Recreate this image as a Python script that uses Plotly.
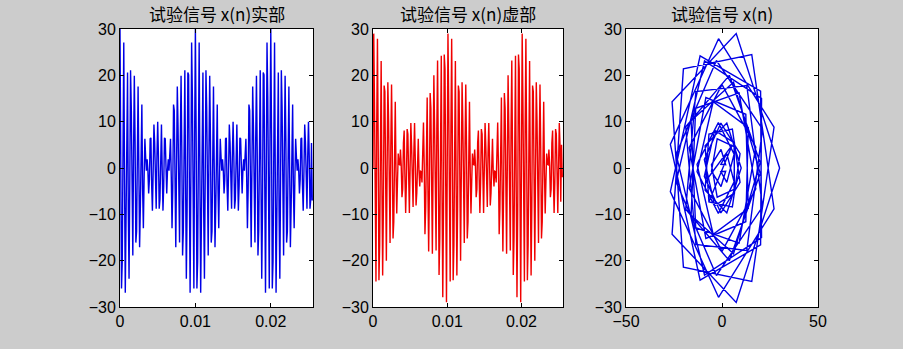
import numpy as np
import plotly.graph_objects as go

# ---------------- data ----------------
fs = 10000          # sampling rate, Hz
N = 256             # number of samples

re_part = [
    30.0, 7.4, -26.0, -20.1, 15.5, 27.1, -1.8, -26.9, -11.4, 20.1,
    20.6, -9.1, -23.9, -2.9, 21.1, 12.9, -13.6, -18.9, 3.8, 19.9,
    6.0, -16.1, -13.7, 8.9, 17.6, 0.0, -17.1, -8.4, 12.4, 13.7,
    -4.6, -13.0, -1.9, 6.3, 2.5, -0.6, 1.9, -0.5, -5.5, -2.5,
    6.3, 6.5, -3.8, -9.2, -0.6, 9.4, 5.4, -6.8, -8.8, 2.5,
    10.0, 2.5, -8.8, -6.8, 5.4, 9.4, -0.6, -9.2, -3.8, 6.5,
    6.3, -2.5, -5.5, -0.5, 1.9, -0.6, 2.5, 6.3, -1.9, -13.0,
    -4.6, 13.7, 12.4, -8.4, -17.1, 0.0, 17.6, 8.9, -13.7, -16.1,
    6.0, 19.9, 3.8, -18.9, -13.6, 12.9, 21.1, -2.9, -23.9, -9.1,
    20.6, 20.1, -11.4, -26.9, -1.8, 27.1, 15.5, -20.1, -26.0, 7.4,
    30.0, 7.4, -26.0, -20.1, 15.5, 27.1, -1.8, -26.9, -11.4, 20.1,
    20.6, -9.1, -23.9, -2.9, 21.1, 12.9, -13.6, -18.9, 3.8, 19.9,
    6.0, -16.1, -13.7, 8.9, 17.6, 0.0, -17.1, -8.4, 12.4, 13.7,
    -4.6, -13.0, -1.9, 6.3, 2.5, -0.6, 1.9, -0.5, -5.5, -2.5,
    6.3, 6.5, -3.8, -9.2, -0.6, 9.4, 5.4, -6.8, -8.8, 2.5,
    10.0, 2.5, -8.8, -6.8, 5.4, 9.4, -0.6, -9.2, -3.8, 6.5,
    6.3, -2.5, -5.5, -0.5, 1.9, -0.6, 2.5, 6.3, -1.9, -13.0,
    -4.6, 13.7, 12.4, -8.4, -17.1, 0.0, 17.6, 8.9, -13.7, -16.1,
    6.0, 19.9, 3.8, -18.9, -13.6, 12.9, 21.1, -2.9, -23.9, -9.1,
    20.6, 20.1, -11.4, -26.9, -1.8, 27.1, 15.5, -20.1, -26.0, 7.4,
    30.0, 7.4, -26.0, -20.1, 15.5, 27.1, -1.8, -26.9, -11.4, 20.1,
    20.6, -9.1, -23.9, -2.9, 21.1, 12.9, -13.6, -18.9, 3.8, 19.9,
    6.0, -16.1, -13.7, 8.9, 17.6, 0.0, -17.1, -8.4, 12.4, 13.7,
    -4.6, -13.0, -1.9, 6.3, 2.5, -0.6, 1.9, -0.5, -5.5, -2.5,
    6.3, 6.5, -3.8, -9.2, -0.6, 9.4, 5.4, -6.8, -8.8, 2.5,
    10.0, 2.5, -8.8, -6.8, 5.4, -7.0,
]

im_part = [
    0.0, 29.0, 14.3, -21.4, -24.5, 8.8, 27.9, 5.1, -24.2, -16.6,
    15.0, 23.1, -3.0, -23.2, -8.4, 17.8, 16.5, -8.9, -20.0, -1.2,
    18.5, 10.2, -12.9, -16.2, 4.5, 18.0, 4.4, -15.2, -11.6, 8.7,
    14.3, -0.8, -9.8, -3.0, 3.1, 0.8, 0.7, 4.0, 0.7, -6.3,
    -4.6, 5.4, 8.1, -1.8, -9.7, -3.1, 8.4, 7.3, -4.8, -9.7,
    0.0, 9.7, 4.8, -7.3, -8.4, 3.1, 9.7, 1.8, -8.1, -5.4,
    4.6, 6.3, -0.7, -4.0, -0.7, -0.8, -3.1, 3.0, 9.8, 0.8,
    -14.3, -8.7, 11.6, 15.2, -4.4, -18.0, -4.5, 16.2, 12.9, -10.2,
    -18.5, 1.2, 20.0, 8.9, -16.5, -17.8, 8.4, 23.2, 3.0, -23.1,
    -15.0, 16.6, 24.2, -5.1, -27.9, -8.8, 24.5, 21.4, -14.3, -29.0,
    0.0, 29.0, 14.3, -21.4, -24.5, 8.8, 27.9, 5.1, -24.2, -16.6,
    15.0, 23.1, -3.0, -23.2, -8.4, 17.8, 16.5, -8.9, -20.0, -1.2,
    18.5, 10.2, -12.9, -16.2, 4.5, 18.0, 4.4, -15.2, -11.6, 8.7,
    14.3, -0.8, -9.8, -3.0, 3.1, 0.8, 0.7, 4.0, 0.7, -6.3,
    -4.6, 5.4, 8.1, -1.8, -9.7, -3.1, 8.4, 7.3, -4.8, -9.7,
    0.0, 9.7, 4.8, -7.3, -8.4, 3.1, 9.7, 1.8, -8.1, -5.4,
    4.6, 6.3, -0.7, -4.0, -0.7, -0.8, -3.1, 3.0, 9.8, 0.8,
    -14.3, -8.7, 11.6, 15.2, -4.4, -18.0, -4.5, 16.2, 12.9, -10.2,
    -18.5, 1.2, 20.0, 8.9, -16.5, -17.8, 8.4, 23.2, 3.0, -23.1,
    -15.0, 16.6, 24.2, -5.1, -27.9, -8.8, 24.5, 21.4, -14.3, -29.0,
    0.0, 29.0, 14.3, -21.4, -24.5, 8.8, 27.9, 5.1, -24.2, -16.6,
    15.0, 23.1, -3.0, -23.2, -8.4, 17.8, 16.5, -8.9, -20.0, -1.2,
    18.5, 10.2, -12.9, -16.2, 4.5, 18.0, 4.4, -15.2, -11.6, 8.7,
    14.3, -0.8, -9.8, -3.0, 3.1, 0.8, 0.7, 4.0, 0.7, -6.3,
    -4.6, 5.4, 8.1, -1.8, -9.7, -3.1, 8.4, 7.3, -4.8, -9.7,
    0.0, 9.7, 4.8, -7.3, 5.0, -2.0,
]

t = np.arange(N) / fs   # sample instants

titles = ["试验信号 x(n)实部", "试验信号 x(n)虚部", "试验信号 x(n)"]
time_ticks = [0, 0.01, 0.02]
time_ticklabels = ["0", "0.01", "0.02"]
xy_ticks = [-50, 0, 50]
y_ticks = [-30, -20, -10, 0, 10, 20, 30]

# ---------------- figure ----------------
W, H = 903, 349
BG = "#cccccc"
TICKFONT = dict(family="Liberation Sans, Arial, sans-serif", size=16, color="black")
TITLEFONT = dict(family="Noto Sans CJK SC, sans-serif", size=17, color="black")

fig = go.Figure()
fig.add_trace(go.Scatter(x=t, y=re_part, mode="lines",
                         line=dict(color="#0000e6", width=1.4), xaxis="x", yaxis="y"))
fig.add_trace(go.Scatter(x=t, y=im_part, mode="lines",
                         line=dict(color="#f00000", width=1.4), xaxis="x2", yaxis="y2"))
fig.add_trace(go.Scatter(x=re_part, y=im_part, mode="lines",
                         line=dict(color="#0000e6", width=1.4), xaxis="x3", yaxis="y3"))

# axes pixel boxes (left, right) and common (top, bottom)
boxes = [(120, 313), (373, 563), (626, 818)]
top, bottom = 29, 307
ydom = [1 - bottom / H, 1 - top / H]

common = dict(showline=True, linecolor="black", linewidth=1, mirror="ticks",
              ticks="inside", ticklen=4, tickcolor="black", showgrid=False,
              zeroline=False, tickfont=TICKFONT, automargin=False)

layout = dict(width=W, height=H, margin=dict(l=0, r=0, t=0, b=0, pad=0),
              paper_bgcolor=BG, plot_bgcolor="white", showlegend=False)

for i, (l, r) in enumerate(boxes):
    sfx = "" if i == 0 else str(i + 1)
    if i < 2:
        xa = dict(range=[0, N / fs], tickvals=time_ticks, ticktext=time_ticklabels, **common)
    else:
        xa = dict(range=[-50, 50], tickvals=xy_ticks, **common)
    xa["domain"] = [l / W, r / W]
    xa["anchor"] = "y" + sfx
    ya = dict(range=[-30, 30], tickvals=y_ticks, domain=ydom, anchor="x" + sfx, **common)
    layout["xaxis" + sfx] = xa
    layout["yaxis" + sfx] = ya

fig.update_layout(**layout)

for i, (l, r) in enumerate(boxes):
    fig.add_annotation(text=titles[i], x=(l + r) / 2 / W, y=1 - 13.5 / H,
                       xref="paper", yref="paper", showarrow=False,
                       xanchor="center", yanchor="middle", font=TITLEFONT)

fig.write_html("out.html")
